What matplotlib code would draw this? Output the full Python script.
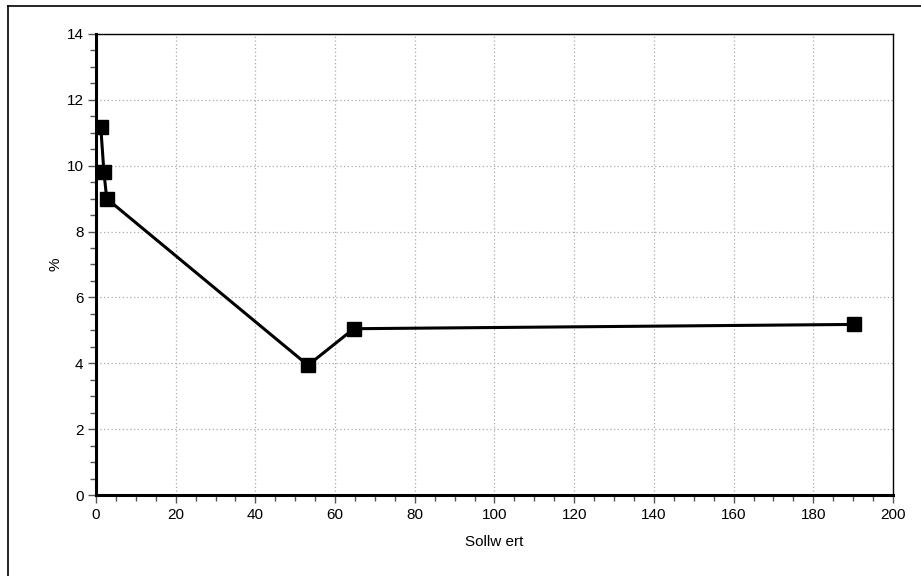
import matplotlib
matplotlib.use("Agg")
import matplotlib.pyplot as plt
from matplotlib.ticker import MultipleLocator
from matplotlib.lines import Line2D

plt.rcParams['font.family'] = ['Liberation Sans', 'DejaVu Sans']

x_values = [1.2, 2.0, 2.7, 53.2, 64.7, 190.2]
y_values = [11.18, 9.80, 9.00, 3.94, 5.05, 5.18]
x_label = "Sollw ert"
y_label = "%"

fig = plt.figure(figsize=(9.21, 5.76), dpi=100)
ax = fig.add_axes([0.1042, 0.1406, 0.8654, 0.8004])

ax.plot(x_values, y_values, color='black', lw=2.2, marker='s', markersize=10.5,
        markerfacecolor='black', markeredgecolor='black', zorder=3)

ax.set_xlim(0, 200)
ax.set_ylim(0, 14)
ax.xaxis.set_major_locator(MultipleLocator(20))
ax.xaxis.set_minor_locator(MultipleLocator(5))
ax.yaxis.set_major_locator(MultipleLocator(2))
ax.yaxis.set_minor_locator(MultipleLocator(0.5))

ax.grid(True, which='major', linestyle=(0, (1, 2)), color='#aaaaaa', lw=0.9)
ax.set_axisbelow(True)

for s in ['left', 'bottom']:
    ax.spines[s].set_linewidth(2.2)
for s in ['top', 'right']:
    ax.spines[s].set_linewidth(1.0)

ax.tick_params(which='major', direction='out', length=6, width=1, color='#555555',
               labelsize=11, pad=3)
ax.tick_params(which='minor', direction='out', length=4, width=1, color='#555555')

ax.set_xlabel(x_label, fontsize=11, labelpad=10)
ax.set_ylabel(y_label, fontsize=11, labelpad=3)

# figure border (top and left)
fig.add_artist(Line2D([8/921, 1.0], [1 - 6/576, 1 - 6/576], transform=fig.transFigure,
                      color='black', lw=1.2))
fig.add_artist(Line2D([8/921, 8/921], [0.0, 1 - 6/576], transform=fig.transFigure,
                      color='black', lw=1.2))

fig.savefig("out.png", dpi=100)
